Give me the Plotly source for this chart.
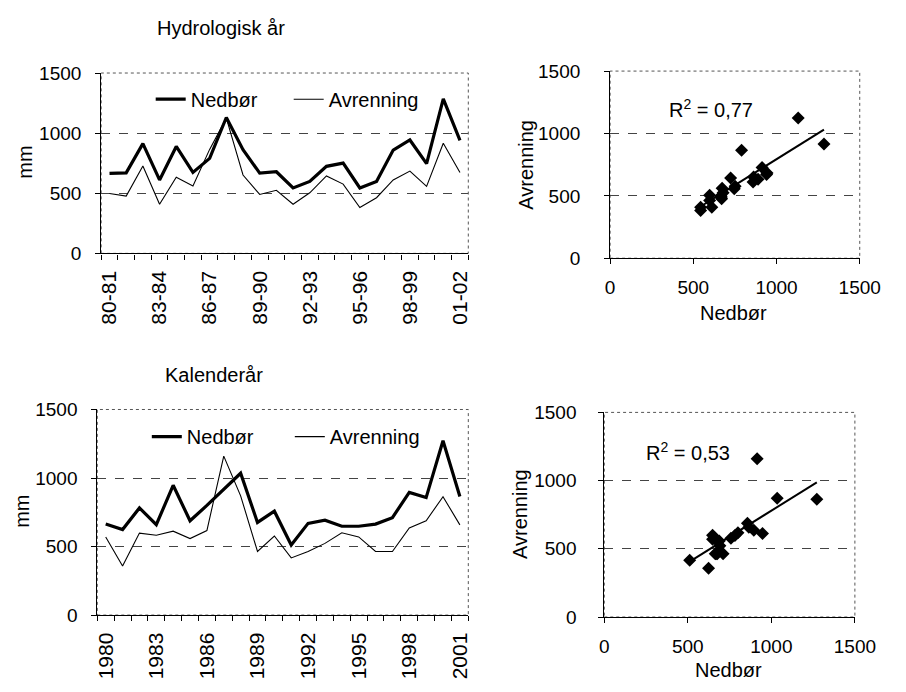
import numpy as np
import plotly.graph_objects as go

# ---------------- data ----------------
hyd_years = ["80-81", "81-82", "82-83", "83-84", "84-85", "85-86", "86-87", "87-88",
             "88-89", "89-90", "90-91", "91-92", "92-93", "93-94", "94-95", "95-96",
             "96-97", "97-98", "98-99", "99-00", "00-01", "01-02"]
hyd_nedbor = [665, 670, 913, 611, 889, 673, 790, 1130, 862, 668, 679, 544, 598, 724,
              751, 544, 598, 859, 943, 746, 1285, 940]
hyd_avrenning = [498, 477, 727, 409, 633, 560, 865, 1125, 652, 490, 525, 409, 504, 644,
                 576, 382, 463, 611, 684, 557, 916, 672]
hyd_r2_text = "R<sup>2</sup> = 0,77"

cal_years = [str(y) for y in range(1980, 2002)]
cal_nedbor = [664, 624, 782, 659, 947, 688, 800, 915, 1035, 676, 758, 511, 669, 692,
              648, 648, 664, 711, 895, 857, 1272, 865]
cal_avrenning = [570, 358, 598, 582, 612, 558, 617, 1160, 870, 464, 577, 417, 464, 523,
                 600, 570, 464, 464, 636, 688, 864, 658]
cal_r2_text = "R<sup>2</sup> = 0,53"

label_every = 3
y_ticks = [0, 500, 1000, 1500]
x_ticks_scatter = [0, 500, 1000, 1500]

FONT = "Liberation Sans, Arial, sans-serif"
W, H = 906, 692


def dom_x(a, b):
    return [a / W, b / W]


def dom_y(top, bottom):
    return [1 - bottom / H, 1 - top / H]


fig = go.Figure()

# ---------- line panels ----------
panels = [
    ("x", "y", hyd_years, hyd_nedbor, hyd_avrenning, "legend"),
    ("x2", "y2", cal_years, cal_nedbor, cal_avrenning, "legend2"),
]
for xa, ya, cats, ned, avr, lg in panels:
    idx = list(range(len(cats)))
    fig.add_trace(go.Scatter(x=idx, y=ned, mode="lines", name="Nedbør",
                             line=dict(color="black", width=3.2), xaxis=xa, yaxis=ya,
                             legend=lg))
    fig.add_trace(go.Scatter(x=idx, y=avr, mode="lines", name="Avrenning",
                             line=dict(color="black", width=1.1), xaxis=xa, yaxis=ya,
                             legend=lg))

# ---------- scatter panels ----------
sc_panels = [("x3", "y3", hyd_nedbor, hyd_avrenning),
             ("x4", "y4", cal_nedbor, cal_avrenning)]
for xa, ya, nx, ay in sc_panels:
    fig.add_trace(go.Scatter(x=nx, y=ay, mode="markers", showlegend=False,
                             marker=dict(symbol="diamond", size=10, color="black"),
                             xaxis=xa, yaxis=ya))
    k, m = np.polyfit(nx, ay, 1)
    xs = [min(nx), max(nx)]
    fig.add_trace(go.Scatter(x=xs, y=[k * v + m for v in xs], mode="lines",
                             showlegend=False, line=dict(color="black", width=2),
                             xaxis=xa, yaxis=ya))

tickfont = dict(family=FONT, size=19, color="black")
xcat_font = dict(family=FONT, size=21, color="black")


def y_axis(domain, anchor, standoff):
    return dict(domain=domain, anchor=anchor, range=[0, 1500], tickvals=y_ticks,
                ticks="outside", ticklen=5, tickcolor="black", showline=True,
                linecolor="black", linewidth=1, showgrid=True, gridcolor="#444",
                griddash="dash", gridwidth=1, zeroline=False, tickfont=tickfont,
                ticklabelstandoff=standoff)


def cat_xaxis(cats, domain, anchor):
    n = len(cats)
    tv = list(range(0, n, label_every))
    return dict(domain=domain, anchor=anchor, range=[-0.5, n - 0.5],
                tickvals=tv, ticktext=[cats[i] for i in tv], tickangle=-90,
                ticks="", showline=True, linecolor="black", linewidth=1.3,
                showgrid=False, zeroline=False, tickfont=xcat_font,
                ticklabelstandoff=8,
                minor=dict(tickvals=[i - 0.5 for i in range(n + 1)], ticks="outside",
                           ticklen=5, tickcolor="black", showgrid=False))


def sc_xaxis(domain, anchor):
    return dict(domain=domain, anchor=anchor, range=[0, 1500],
                tickvals=x_ticks_scatter, ticks="outside", ticklen=5, tickcolor="black",
                showline=True, linecolor="black", linewidth=1, showgrid=False,
                zeroline=False, tickfont=tickfont, ticklabelstandoff=7)


fig.update_layout(
    xaxis=cat_xaxis(hyd_years, dom_x(99, 477), "y"),
    yaxis=y_axis(dom_y(65, 251), "x", 10),
    xaxis2=cat_xaxis(cal_years, dom_x(95, 477), "y2"),
    yaxis2=y_axis(dom_y(412, 624), "x2", 10),
    xaxis3=sc_xaxis(dom_x(623, 880), "y3"),
    yaxis3=y_axis(dom_y(63, 256), "x3", 20),
    xaxis4=sc_xaxis(dom_x(617, 875), "y4"),
    yaxis4=y_axis(dom_y(415, 626), "x4", 18),
)

# dotted frames
for xa, ya in [("x", "y"), ("x2", "y2"), ("x3", "y3"), ("x4", "y4")]:
    fig.add_shape(type="rect", xref=f"{xa} domain", yref=f"{ya} domain",
                  x0=0, x1=1, y0=0, y1=1, line=dict(color="#555", width=1, dash="dot"),
                  layer="below")

legend_common = dict(orientation="h", xanchor="left", yanchor="middle",
                     font=dict(family=FONT, size=20, color="black"),
                     bgcolor="rgba(0,0,0,0)", entrywidthmode="pixels",
                     tracegroupgap=0, itemwidth=30)
fig.update_layout(
    legend=dict(x=150 / W, y=1 - 92 / H, entrywidth=93, **legend_common),
    legend2=dict(x=146 / W, y=1 - 440 / H, entrywidth=98, **legend_common),
)

ann_font = dict(family=FONT, size=20, color="black")
annotations = [
    dict(text="Hydrologisk år", x=222 / W, y=1 - 19 / H),
    dict(text="Kalenderår", x=215 / W, y=1 - 376 / H),
    dict(text=hyd_r2_text, x=727 / W, y=1 - 102 / H),
    dict(text=cal_r2_text, x=703 / W, y=1 - 455 / H),
    dict(text="Nedbør", x=750 / W, y=1 - 312 / H),
    dict(text="Nedbør", x=745 / W, y=1 - 681 / H),
    dict(text="mm", x=21 / W, y=1 - 157 / H, textangle=-90),
    dict(text="mm", x=18 / W, y=1 - 517 / H, textangle=-90),
    dict(text="Avrenning", x=537 / W, y=1 - 160 / H, textangle=-90),
    dict(text="Avrenning", x=530 / W, y=1 - 520 / H, textangle=-90),
]
for a in annotations:
    fig.add_annotation(xref="paper", yref="paper", showarrow=False,
                       xanchor="center", yanchor="middle", font=ann_font, **a)

fig.update_layout(width=W, height=H, margin=dict(l=0, r=0, t=0, b=0),
                  paper_bgcolor="white", plot_bgcolor="white",
                  font=dict(family=FONT, color="black"))

fig.write_html("out.html",
               config={"displayModeBar": False},
               post_script="document.body.style.margin='0';"
                           "document.body.style.padding='0';"
                           "document.body.style.overflow='hidden';")
